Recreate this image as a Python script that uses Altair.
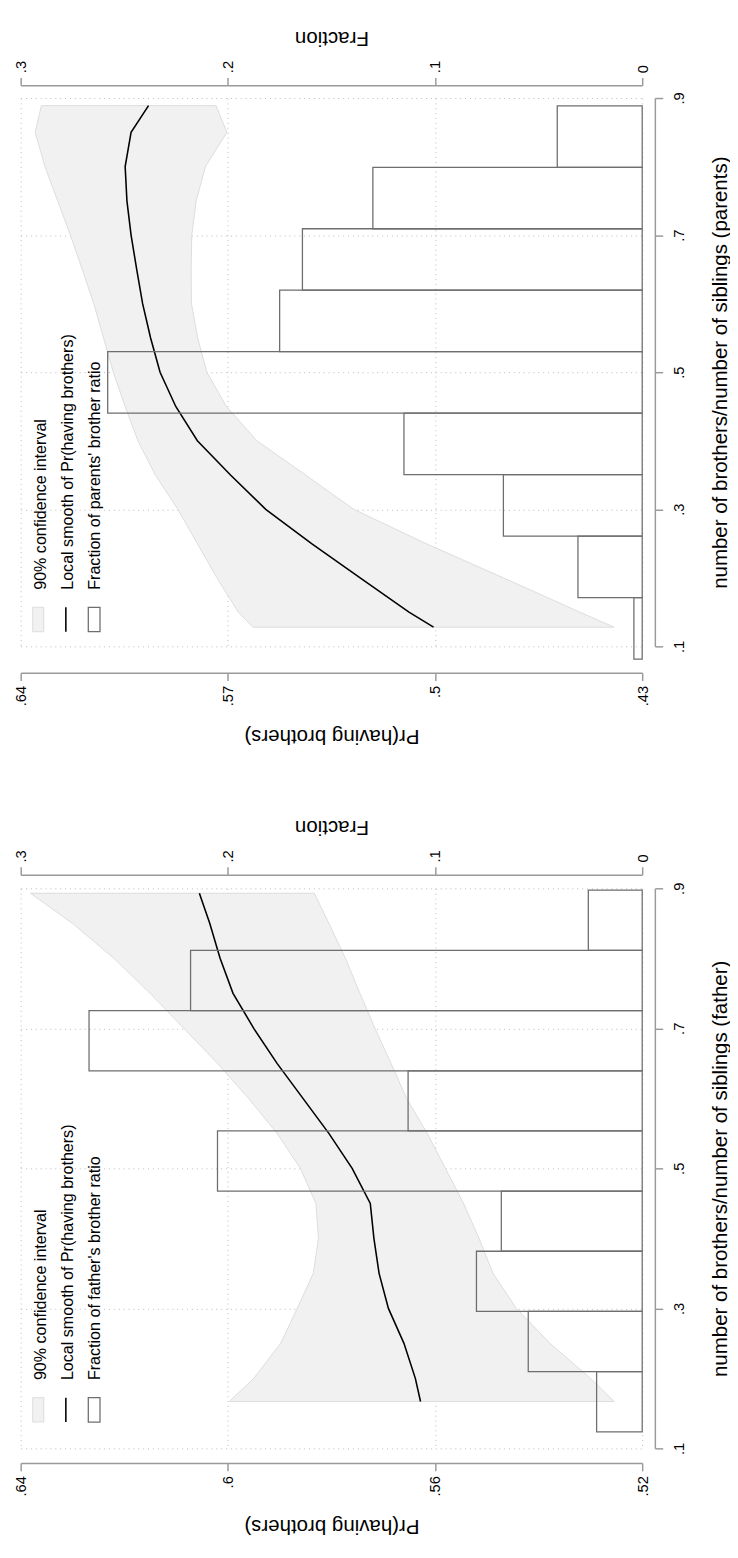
import altair as alt
import pandas as pd

# ---------------- Parents panel (top) ----------------
p_ratio  = [.128, .15, .2, .25, .3, .35, .4, .45, .5, .55, .6, .65, .7, .75, .8, .85, .889]
p_smooth = [.5005, .5088, .5253, .5417, .5572, .5691, .5803, .5876, .5929, .5961, .5988, .6008, .6027, .6041, .6047, .6027, .5968]
p_upper  = [.5615, .5665, .5737, .5803, .5869, .5945, .6004, .6047, .6087, .6120, .6153, .6192, .6232, .6275, .6318, .6351, .6330]
p_lower  = [.4395, .4511, .4769, .5031, .5275, .5437, .5602, .5705, .5771, .5802, .5823, .5824, .5822, .5807, .5776, .5703, .5740]
p_bin_lo = [.0815, .1712, .2609, .3505, .4402, .5299, .6196, .7093, .7989]
p_bin_hi = [.1712, .2609, .3505, .4402, .5299, .6196, .7093, .7989, .8886]
p_frac   = [.004, .031, .067, .115, .258, .175, .164, .130, .041]

# ---------------- Father panel (bottom) ----------------
f_ratio  = [.167, .2, .25, .3, .35, .4, .45, .5, .55, .6, .65, .7, .75, .8, .85, .893]
f_smooth = [.5628, .5638, .5660, .5690, .5708, .5718, .5725, .5760, .5805, .5855, .5905, .5950, .5990, .6015, .6035, .6055]
f_upper  = [.5997, .5950, .5898, .5866, .5835, .5825, .5830, .5860, .5905, .5960, .6020, .6085, .6150, .6220, .6300, .6381]
f_lower  = [.5254, .5300, .5378, .5443, .5488, .5515, .5545, .5580, .5615, .5655, .5685, .5716, .5745, .5773, .5805, .5833]
f_bin_lo = [.1237, .2097, .2956, .3816, .4675, .5535, .6394, .7254, .8113]
f_bin_hi = [.2097, .2956, .3816, .4675, .5535, .6394, .7254, .8113, .8973]
f_frac   = [.022, .055, .080, .068, .205, .113, .267, .218, .026]

ratio_ticks = [.1, .3, .5, .7, .9]
frac_ticks = [0, .1, .2, .3]
p_pr_ticks = [.43, .5, .57, .64]
f_pr_ticks = [.52, .56, .6, .64]

FONT = "Liberation Sans"
AXC = "#9a9a9a"
GRIDC = "#b8b8b8"
LBL = "replace(datum.label, '0.', '.')"
PW = 637


def panel(ratio, smooth, upper, lower, lo, hi, frac, pr_ticks, h, pr_off, fr_off,
          rtitle, leg3):
    curve = pd.DataFrame({"r": ratio, "s": smooth, "u": upper, "l": lower})
    hist = pd.DataFrame({"lo": lo, "hi": hi, "f": frac, "zero": [0.0] * len(frac)})
    dummy = pd.DataFrame({"k": [0]})

    yscale = alt.Scale(domain=[.1, .9], nice=False, zero=False)
    prscale = alt.Scale(domain=[min(pr_ticks), max(pr_ticks)], nice=False, zero=False, reverse=True)
    frscale = alt.Scale(domain=[0, .3], nice=False, zero=False, reverse=True)

    yaxis = alt.Axis(orient="right", values=ratio_ticks, format="~g", labelExpr=LBL,
                     offset=13, domainColor=AXC, domainWidth=1.5, tickColor=AXC,
                     tickWidth=1.5, tickSize=8, labelAngle=270, labelAlign="center",
                     labelBaseline="top", labelPadding=9, labelFontSize=15,
                     labelFont=FONT, labelColor="black", title=rtitle, titleAngle=270,
                     titleBaseline="top", titleFontSize=21, titleFont=FONT,
                     titleFontWeight="normal", titlePadding=24, titleColor="black",
                     grid=True, gridColor=GRIDC, gridDash=[1, 4], gridWidth=1)
    praxis = alt.Axis(orient="bottom", values=pr_ticks, format="~g", labelExpr=LBL,
                      offset=pr_off, domainColor=AXC, domainWidth=1.5, tickColor=AXC,
                      tickWidth=1.5, tickSize=8, labelAngle=270, labelAlign="right",
                      labelBaseline="middle", labelPadding=5, labelFontSize=15,
                      labelFont=FONT, labelColor="black", title="Pr(having brothers)",
                      titleAngle=180, titleBaseline="bottom", titleFontSize=21,
                      titleFont=FONT, titleFontWeight="normal", titlePadding=20,
                      titleColor="black", grid=True, gridColor=GRIDC, gridDash=[1, 4],
                      gridWidth=1)
    fraxis = alt.Axis(orient="top", values=frac_ticks, format="~g", labelExpr=LBL,
                      offset=fr_off, domainColor=AXC, domainWidth=1.5, tickColor=AXC,
                      tickWidth=1.5, tickSize=8, labelAngle=270, labelAlign="left",
                      labelBaseline="middle", labelPadding=5, labelFontSize=15,
                      labelFont=FONT, labelColor="black", title="Fraction",
                      titleAngle=180, titleBaseline="top", titleFontSize=21,
                      titleFont=FONT, titleFontWeight="normal", titlePadding=13,
                      titleColor="black", grid=False)

    band = alt.Chart(curve).mark_area(orient="horizontal", color="#f1f1f1",
                                      stroke="#dcdcdc", strokeWidth=1).encode(
        y=alt.Y("r:Q", scale=yscale, axis=yaxis),
        x=alt.X("l:Q", scale=prscale, axis=praxis),
        x2="u:Q",
    )
    line = alt.Chart(curve).mark_line(color="black", strokeWidth=1.6).encode(
        y=alt.Y("r:Q", scale=yscale, axis=yaxis),
        x=alt.X("s:Q", scale=prscale, axis=None),
        order="r:Q",
    )
    bars = alt.Chart(hist).mark_rect(fill="white", fillOpacity=0, stroke="#6e6e6e",
                                     strokeWidth=1.3).encode(
        y=alt.Y("lo:Q", scale=yscale, axis=yaxis),
        y2="hi:Q",
        x=alt.X("f:Q", scale=frscale, axis=fraxis),
        x2="zero:Q",
    )

    def ltext(txt, xb):
        return alt.Chart(dummy).mark_text(text=txt, angle=270, align="left",
                                          baseline="alphabetic", font=FONT,
                                          fontSize=16.5, color="black").encode(
            x=alt.value(xb), y=alt.value(504))

    sym1 = alt.Chart(dummy).mark_rect(fill="#f1f1f1", stroke="#dcdcdc", strokeWidth=1).encode(
        x=alt.value(12.3), x2=alt.value(23.7), y=alt.value(522), y2=alt.value(547))
    sym2 = alt.Chart(dummy).mark_rule(color="black", strokeWidth=1.6).encode(
        x=alt.value(46.3), y=alt.value(522), y2=alt.value(547))
    sym3 = alt.Chart(dummy).mark_rect(fill="white", fillOpacity=0, stroke="#6e6e6e",
                                      strokeWidth=1.3).encode(
        x=alt.value(69.3), x2=alt.value(81.3), y=alt.value(522), y2=alt.value(547))

    leg = [ltext("90% confidence interval", 26.3),
           ltext("Local smooth of Pr(having brothers)", 53.5),
           ltext(leg3, 81.5), sym1, sym2, sym3]

    return alt.layer(band, line, bars, *leg).resolve_scale(x="independent").properties(
        width=PW, height=h)


top = panel(p_ratio, p_smooth, p_upper, p_lower, p_bin_lo, p_bin_hi, p_frac,
            p_pr_ticks, 562, 27, 13,
            "number of brothers/number of siblings (parents)",
            "Fraction of parents' brother ratio")
bottom = panel(f_ratio, f_smooth, f_upper, f_lower, f_bin_lo, f_bin_hi, f_frac,
               f_pr_ticks, 574, 15, 14,
               "number of brothers/number of siblings (father)",
               "Fraction of father's brother ratio")

chart = alt.vconcat(top, bottom, spacing=72).properties(
    padding={"left": 5, "top": 0, "right": 0, "bottom": 0},
    background="white",
).configure_view(stroke=None)

chart.save("out.html", embed_options={"renderer": "svg", "actions": False})
